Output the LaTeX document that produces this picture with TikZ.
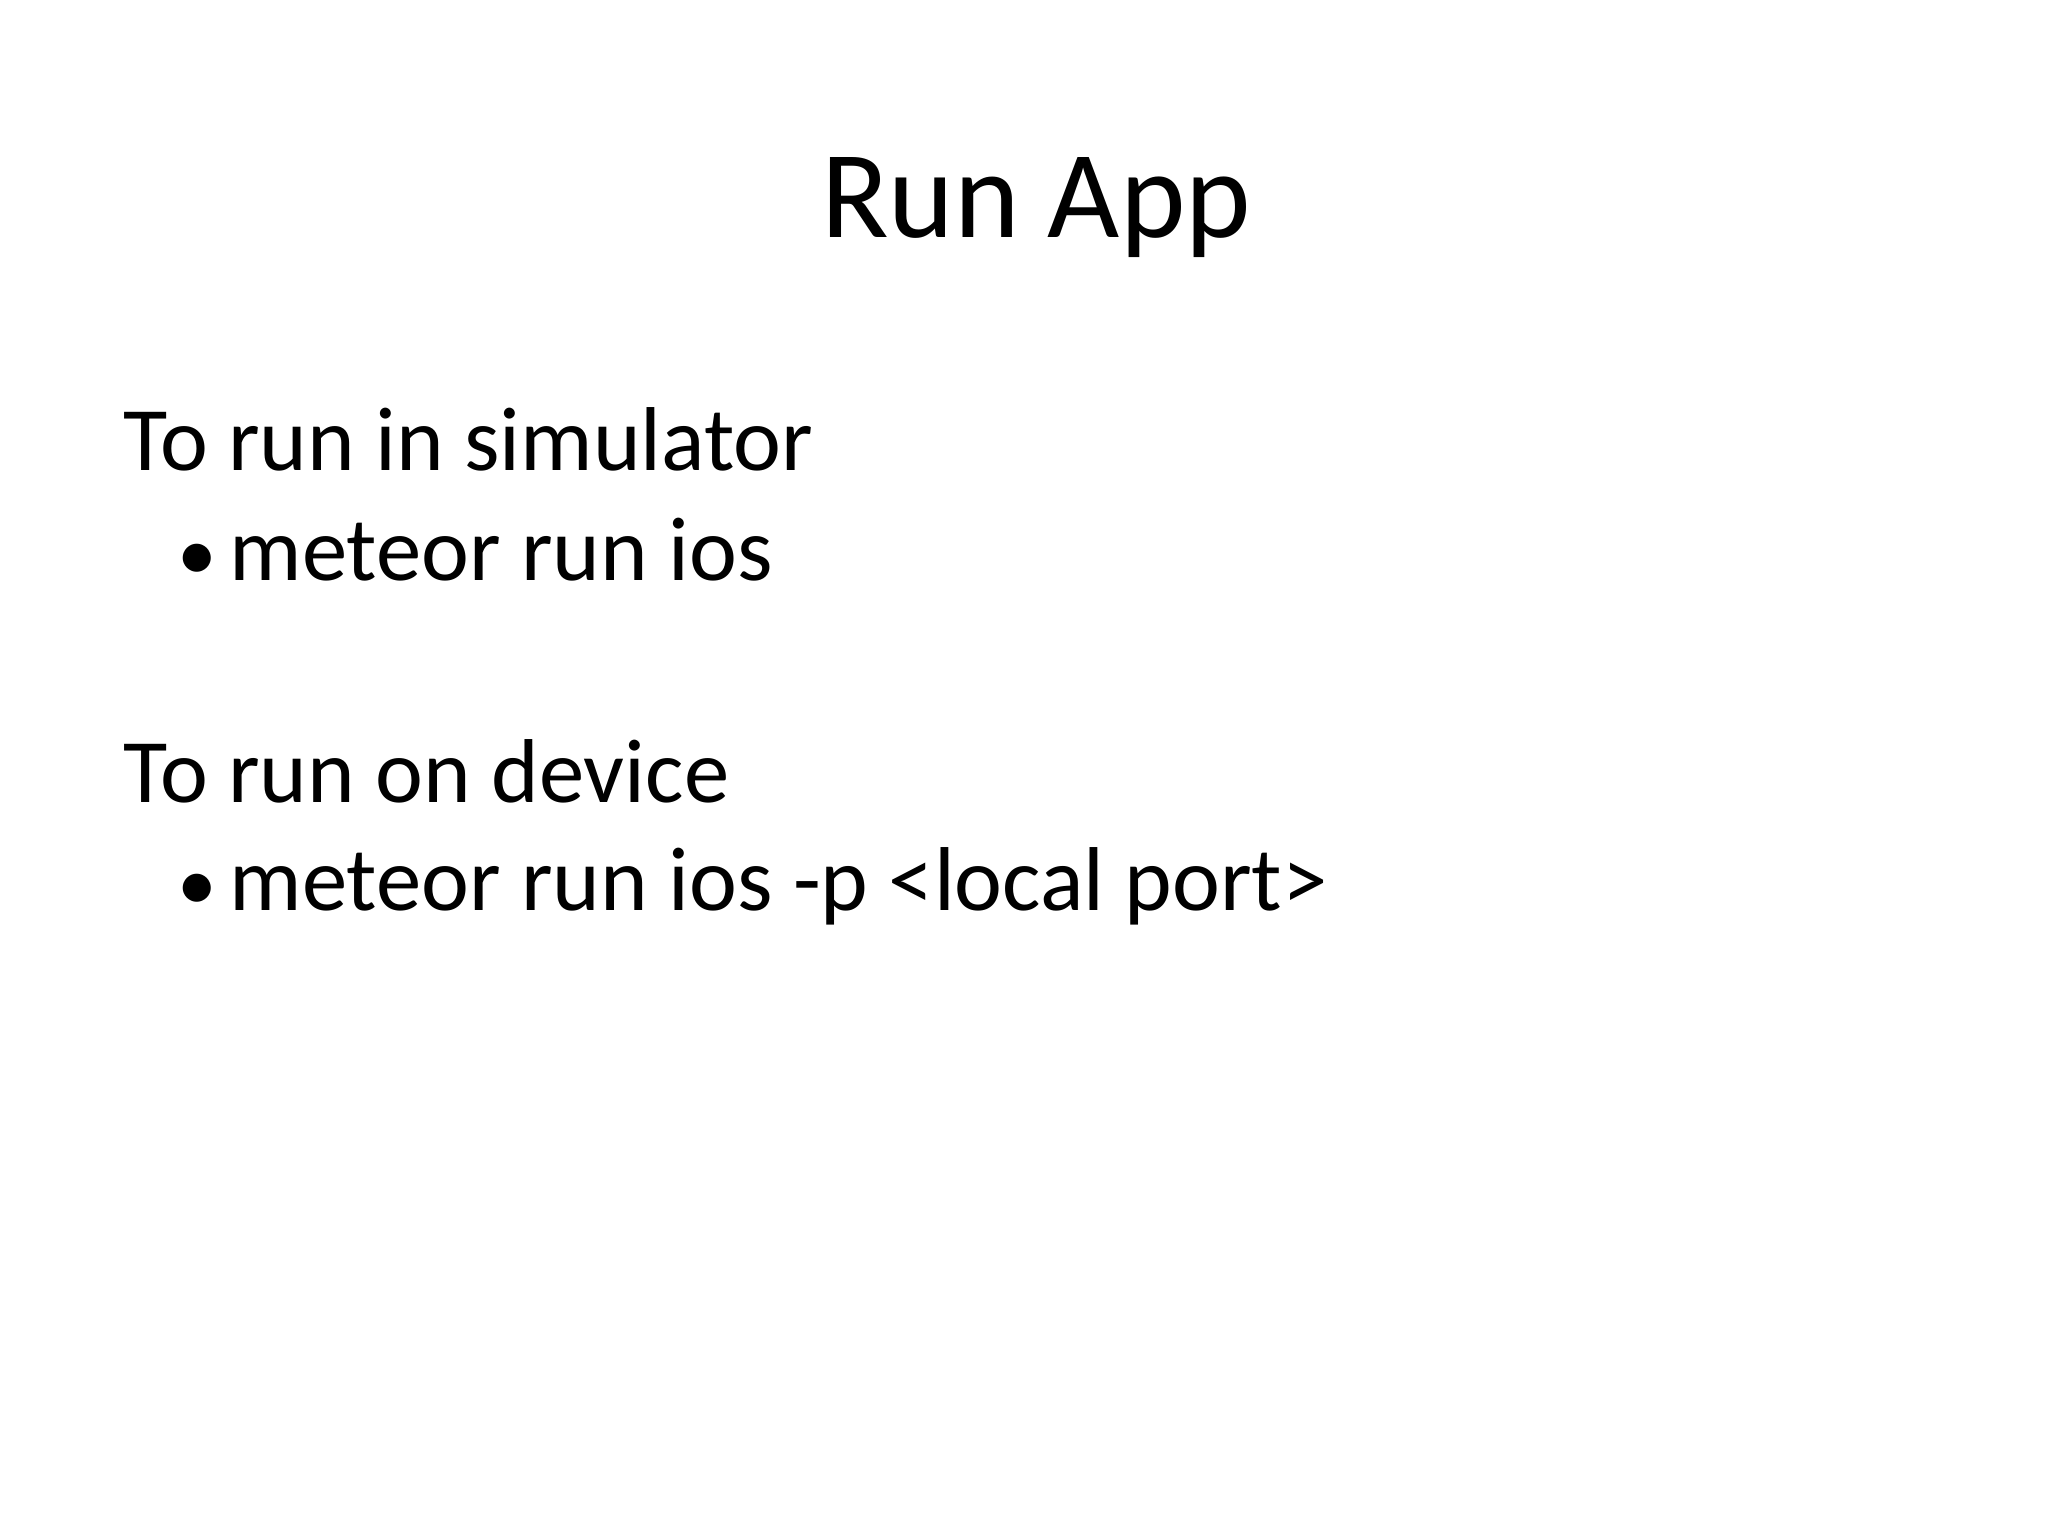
\documentclass[tikz,border=0pt]{standalone}
\usepackage{fontspec}
\setmainfont{Carlito}
\begin{document}
\begin{tikzpicture}[
  title/.style={anchor=base,inner sep=0pt,font=\fontsize{44}{52}\selectfont},
  lvl/.style={anchor=base west,inner sep=0pt,font=\fontsize{32}{38}\selectfont},
  bul/.style={anchor=base west,inner sep=0pt,font=\fontsize{28}{34}\selectfont}]
\useasboundingbox[fill=white] (0,0) rectangle (25.4,19.05);
\node[title] (t) at (12.85,16.10) {Run App};
\node[lvl] (a) at (1.53,13.21) {To run in simulator};
\node[bul] (ab) at (2.20,11.85) {•};
\node[lvl] (a1) at (2.84,11.85) {meteor run ios};
\node[lvl] (b) at (1.53,9.10) {To run on device};
\node[bul] (bb) at (2.20,7.76) {•};
\node[lvl] (b1) at (2.84,7.76) {meteor run ios -p <local port>};
\end{tikzpicture}
\end{document}
